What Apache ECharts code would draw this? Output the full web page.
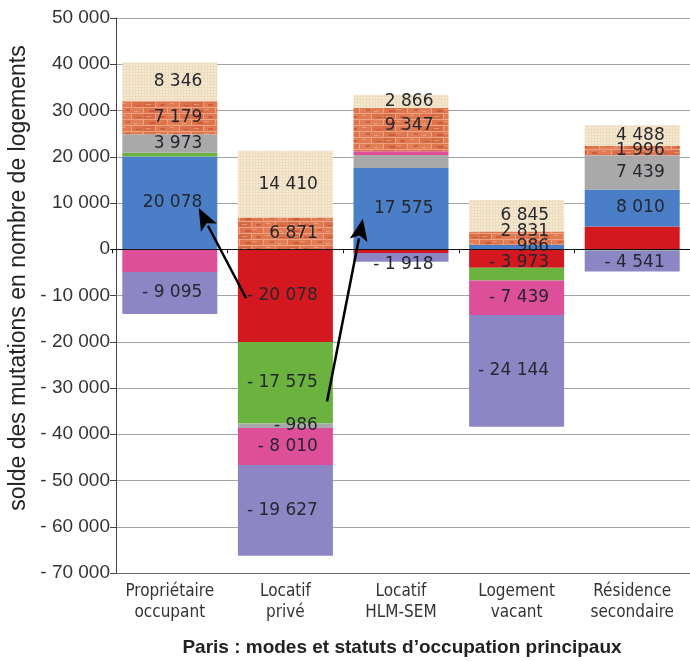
<!DOCTYPE html>
<html>
<head>
<meta charset="utf-8">
<script src="https://cdn.jsdelivr.net/npm/echarts@6/dist/echarts.min.js"></script>
<style>
  html, body { margin: 0; padding: 0; background: #ffffff; }
  #chart { width: 690px; height: 661px; }
</style>
</head>
<body>
<div id="chart"></div>
<script>
// Housing statuses in Paris (x categories)
const categories = ['Propriétaire\noccupant', 'Locatif\nprivé', 'Locatif\nHLM-SEM', 'Logement\nvacant', 'Résidence\nsecondaire'];

// Net exchanges of each status with every other one (gain > 0, loss < 0, null = itself)
const withProprietaire = [null, -20078, -800, -3973, 4900];
const withPrive        = [20078, null, 17575, 986, 8010];
const withHlm          = [800, -17575, null, -2800, -250];
const withVacant       = [3973, -986, 2800, null, 7439];
const withResidence    = [-4900, -8010, 800, -7439, null];
// Other inflows / outflows
const outflowOther     = [-9095, -19627, -1918, -24144, -4541];
const inflowBrick      = [7179, 6871, 9347, 2831, 1996];
const inflowPaper      = [8346, 14410, 2866, 6845, 4488];

// Which segments carry a printed value
const shownProprietaire = [false, true, false, true, false];
const shownPrive        = [true, false, true, true, true];
const shownHlm          = [false, true, false, false, false];
const shownVacant       = [true, true, false, false, true];
const shownResidence    = [false, true, false, true, false];
const shownOther        = [true, true, true, true, true];
const shownBrick        = [true, true, true, true, true];
const shownPaper        = [true, true, true, true, true];

// Y axis range
const yMin = -70000, yMax = 50000, yStep = 10000;

// Arrows: [category, offset within band, value] -> [category, offset, value]
const arrows = [
  [[1, -0.34, -10600], [0, 0.25, 8900]],
  [[1, 0.36, -32900], [2, -0.33, 6600]]
];

function fmt(v) {
  const s = String(Math.abs(v)).replace(/\B(?=(\d{3})+(?!\d))/g, ' ');
  return v < 0 ? '- ' + s : s;
}

// Small label shifts where neighbouring values would collide: layer index, category index, [dx, dy]
const labelShifts = [
  [6, 3, [0, -7]],
  [0, 3, [0, 4]],
  [6, 2, [0, -4]],
  [5, 2, [0, 7]],
  [5, 4, [0, 2]]
];
function shiftFor(layer, idx) {
  const hit = labelShifts.find(s => s[0] === layer && s[1] === idx);
  return hit ? hit[2] : [0, 0];
}

// Brick wall texture
function brickPattern() {
  const c = document.createElement('canvas');
  c.width = 48; c.height = 12;
  const g = c.getContext('2d');
  g.fillStyle = '#eea283';
  g.fillRect(0, 0, 48, 12);
  const bricks = [[0, 0, 23], [24, 0, 23], [-12, 6, 23], [12, 6, 23], [36, 6, 23]];
  const tones = ['#dd744c', '#e27e56', '#d66a45', '#e07a52', '#da714b'];
  bricks.forEach((b, i) => {
    g.fillStyle = tones[i];
    g.fillRect(b[0], b[1], b[2], 5);
  });
  g.fillStyle = 'rgba(185,60,40,0.45)';
  g.fillRect(5, 2, 6, 2); g.fillRect(30, 1, 4, 2); g.fillRect(16, 8, 5, 2); g.fillRect(40, 9, 5, 1);
  g.fillStyle = 'rgba(245,190,160,0.5)';
  g.fillRect(12, 1, 5, 1); g.fillRect(38, 3, 4, 1); g.fillRect(2, 8, 5, 1); g.fillRect(26, 7, 4, 1);
  return c;
}

// Woven paper texture
function paperPattern() {
  const c = document.createElement('canvas');
  c.width = 6; c.height = 6;
  const g = c.getContext('2d');
  g.fillStyle = '#f6e9d1';
  g.fillRect(0, 0, 6, 6);
  g.fillStyle = '#eddcbd';
  g.fillRect(0, 0, 6, 1);
  g.fillRect(0, 3, 6, 1);
  g.fillRect(0, 0, 1, 6);
  g.fillRect(3, 0, 1, 6);
  return c;
}

const layers = [
  { name: 'Propriétaire occupant', values: withProprietaire, shown: shownProprietaire, color: '#d3191f' },
  { name: 'Locatif privé', values: withPrive, shown: shownPrive, color: '#4a7ec6' },
  { name: 'Locatif HLM-SEM', values: withHlm, shown: shownHlm, color: '#6bb33e' },
  { name: 'Logement vacant', values: withVacant, shown: shownVacant, color: '#a9a9a9' },
  { name: 'Résidence secondaire', values: withResidence, shown: shownResidence, color: '#de4f9a' },
  { name: 'Autres sorties', values: outflowOther, shown: shownOther, color: '#8c87c4' },
  { name: 'Apports (brique)', values: inflowBrick, shown: shownBrick, color: { image: brickPattern(), repeat: 'repeat' } },
  { name: 'Apports (papier)', values: inflowPaper, shown: shownPaper, color: { image: paperPattern(), repeat: 'repeat' } }
];

const chart = echarts.init(document.getElementById('chart'), null, { renderer: 'canvas' });

const narrow = '"Liberation Sans Narrow", "DejaVu Sans Condensed", sans-serif';

chart.setOption({
  animation: false,
  backgroundColor: '#ffffff',
  grid: { left: 112, right: -2, top: 18, bottom: 88, containLabel: false },
  xAxis: [
    {
      type: 'category',
      data: categories,
      position: 'bottom',
      axisLine: { onZero: false, lineStyle: { color: '#6a6a6a', width: 1 } },
      axisTick: { show: false },
      axisLabel: {
        margin: 8, color: '#333333', fontFamily: narrow, fontSize: 17, lineHeight: 21
      }
    },
    {
      type: 'category',
      data: categories,
      position: 'top',
      z: 6,
      axisLine: { onZero: true, lineStyle: { color: '#111111', width: 1 } },
      axisTick: { show: true, length: 4, inside: true, lineStyle: { color: '#111111' } },
      axisLabel: { show: false }
    }
  ],
  yAxis: {
    type: 'value',
    min: yMin, max: yMax, interval: yStep,
    offset: -4,
    axisLine: { show: true, lineStyle: { color: '#444444', width: 1 } },
    axisTick: { show: true, length: 6, lineStyle: { color: '#444444' } },
    axisLabel: {
      margin: 6, color: '#333333', fontFamily: '"Liberation Sans", Arial, sans-serif', fontSize: 19,
      formatter: v => fmt(v)
    },
    splitLine: { show: true, lineStyle: { color: '#a3a3a3', width: 1 } }
  },
  series: layers.map((l, li) => ({
    name: l.name,
    type: 'bar',
    stack: 'solde',
    xAxisIndex: 0,
    barWidth: 95,
    itemStyle: { color: l.color },
    label: {
      show: true,
      position: 'insideRight',
      distance: 15,
      color: '#24272e',
      fontFamily: '"DejaVu Sans", sans-serif',
      fontSize: 17,
      formatter: p => fmt(p.value)
    },
    data: l.values.map((v, i) => v === null ? '-' : {
      value: v,
      label: { show: l.shown[i], offset: shiftFor(li, i) }
    })
  }))
});

// Arrows drawn in data space, converted through the axes
function toPixel(p) {
  const c = chart.convertToPixel({ gridIndex: 0 }, [p[0], p[2]]);
  const band = chart.convertToPixel({ gridIndex: 0 }, [1, 0])[0] - chart.convertToPixel({ gridIndex: 0 }, [0, 0])[0];
  return [c[0] + p[1] * band, c[1]];
}

const graphics = [
  {
    id: 'yName',
    type: 'text',
    x: 19, y: 278,
    rotation: Math.PI / 2,
    style: {
      text: 'solde des mutations en nombre de logements',
      fill: '#222222',
      fontFamily: '"Liberation Sans", Arial, sans-serif',
      fontSize: 23,
      align: 'center',
      verticalAlign: 'middle'
    }
  },
  {
    id: 'caption',
    type: 'text',
    x: 402, y: 648,
    style: {
      text: 'Paris : modes et statuts d\u2019occupation principaux',
      fill: '#222222',
      fontFamily: '"Liberation Sans", Arial, sans-serif',
      fontWeight: 'bold',
      fontSize: 19,
      align: 'center',
      verticalAlign: 'middle'
    }
  }
];

arrows.forEach((a, k) => {
  const s = toPixel(a[0]);
  const e = toPixel(a[1]);
  const dx = e[0] - s[0], dy = e[1] - s[1];
  const len = Math.sqrt(dx * dx + dy * dy);
  const ux = dx / len, uy = dy / len;
  const headLen = 22, headHalf = 9;
  const bx = e[0] - ux * headLen, by = e[1] - uy * headLen;
  graphics.push({
    id: 'arrowLine' + k, type: 'line', z: 100,
    shape: { x1: s[0], y1: s[1], x2: bx + ux * 2, y2: by + uy * 2 },
    style: { stroke: '#000000', lineWidth: 2.5 }
  });
  graphics.push({
    id: 'arrowHead' + k, type: 'polygon', z: 100,
    shape: { points: [[e[0], e[1]], [bx - uy * headHalf, by + ux * headHalf], [bx + ux * 5, by + uy * 5], [bx + uy * headHalf, by - ux * headHalf]] },
    style: { fill: '#000000' }
  });
});

chart.setOption({ graphic: graphics });
</script>
</body>
</html>
